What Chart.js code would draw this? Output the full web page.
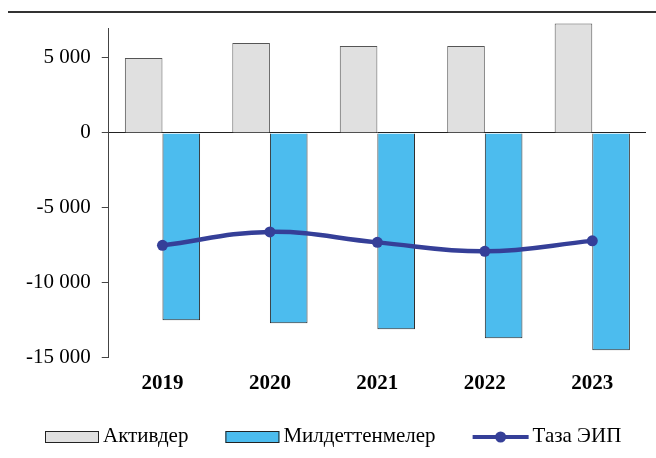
<!DOCTYPE html>
<html>
<head>
<meta charset="utf-8">
<script src="https://cdn.jsdelivr.net/npm/chart.js@4/dist/chart.umd.min.js"></script>
<style>
  html, body { margin: 0; padding: 0; background: #fff; }
  #wrap { width: 656px; height: 458px; }
</style>
</head>
<body>
<div id="wrap"><canvas id="chart"></canvas></div>
<script>
// chart data
const years = ['2019', '2020', '2021', '2022', '2023'];
const assets = [5000, 6000, 5800, 5800, 7300];
const liabilities = [-12500, -12700, -13100, -13700, -14500];
const netPosition = [-7500, -6600, -7300, -7900, -7200];
const yTicks = [-15000, -10000, -5000, 0, 5000];

const seriesNames = ['Активдер', 'Милдеттенмелер', 'Таза ЭИП'];
const lineColor = '#353f98';
const serif = 'Liberation Serif';

// format 15000 -> "15 000"
function fmt(v) {
  const s = String(Math.abs(v)).replace(/\B(?=(\d{3})+(?!\d))/g, ' ');
  return v < 0 ? '-' + s : s;
}

// thin rule across the top of the page
const topRule = {
  id: 'topRule',
  beforeDraw(chart) {
    const c = chart.ctx;
    c.save();
    c.strokeStyle = '#333';
    c.lineWidth = 2;
    c.beginPath();
    c.moveTo(8, 12);
    c.lineTo(656, 12);
    c.stroke();
    c.restore();
  }
};

// legend drawn by hand so the three items stay on one row like the original
const bottomLegend = {
  id: 'bottomLegend',
  afterDraw(chart) {
    const c = chart.ctx;
    const boxW = 54, boxH = 12, textGap = 4, itemGap = 37;
    const cy = 436;
    let x = 45;
    c.save();
    c.font = '21px "' + serif + '"';
    c.textBaseline = 'middle';
    chart.data.datasets.forEach(ds => {
      if (ds.type === 'line') {
        c.strokeStyle = ds.borderColor;
        c.lineWidth = 4;
        c.beginPath();
        c.moveTo(x, cy + 1);
        c.lineTo(x + boxW + 2, cy + 1);
        c.stroke();
        c.fillStyle = ds.borderColor;
        c.beginPath();
        c.arc(x + boxW / 2 + 1, cy + 1, 5.5, 0, Math.PI * 2);
        c.fill();
        x += 2;
      } else {
        c.fillStyle = ds.backgroundColor;
        c.fillRect(x, cy - boxH / 2 + 1, boxW, boxH);
        c.strokeStyle = '#222';
        c.lineWidth = 1;
        c.strokeRect(x + 0.5, cy - boxH / 2 + 1.5, boxW - 1, boxH - 1);
      }
      x += boxW + textGap;
      c.fillStyle = '#000';
      c.fillText(ds.label, x, cy);
      x += c.measureText(ds.label).width + itemGap;
    });
    c.restore();
  }
};

const ctx = document.getElementById('chart').getContext('2d');
new Chart(ctx, {
  data: {
    labels: years,
    datasets: [
      {
        type: 'bar',
        label: seriesNames[0],
        data: assets,
        backgroundColor: '#e0e0e0',
        borderColor: '#555',
        borderWidth: 1,
        categoryPercentage: 0.7,
        barPercentage: 1.0,
        clip: false,
        order: 2
      },
      {
        type: 'bar',
        label: seriesNames[1],
        data: liabilities,
        backgroundColor: '#4cbcee',
        borderColor: '#2a2a2a',
        borderWidth: 1,
        categoryPercentage: 0.7,
        barPercentage: 1.0,
        order: 2
      },
      {
        type: 'line',
        label: seriesNames[2],
        data: netPosition,
        borderColor: lineColor,
        backgroundColor: lineColor,
        borderWidth: 4.5,
        tension: 0.4,
        pointRadius: 5.5,
        pointBackgroundColor: lineColor,
        pointBorderWidth: 0,
        order: 0
      }
    ]
  },
  options: {
    responsive: true,
    maintainAspectRatio: false,
    animation: false,
    layout: { padding: { left: 15, right: 10, top: 28, bottom: 57 } },
    scales: {
      x: {
        grid: { display: false },
        border: { display: false },
        ticks: {
          color: '#000',
          padding: 5,
          font: { family: serif, size: 21, weight: 'bold' }
        }
      },
      y: {
        min: -15000,
        max: 7000,
        afterBuildTicks(scale) {
          scale.ticks = yTicks.map(v => ({ value: v }));
        },
        grid: {
          color: c => (c.tick && c.tick.value === 0 ? '#222' : 'rgba(0,0,0,0)'),
          lineWidth: 1,
          tickColor: '#444',
          tickLength: 7
        },
        border: { display: true, color: '#444', width: 1 },
        ticks: {
          color: '#000',
          padding: 11,
          callback: v => fmt(v),
          font: { family: serif, size: 21 }
        }
      }
    },
    plugins: {
      tooltip: { enabled: false },
      legend: { display: false }
    }
  },
  plugins: [topRule, bottomLegend]
});
</script>
</body>
</html>
